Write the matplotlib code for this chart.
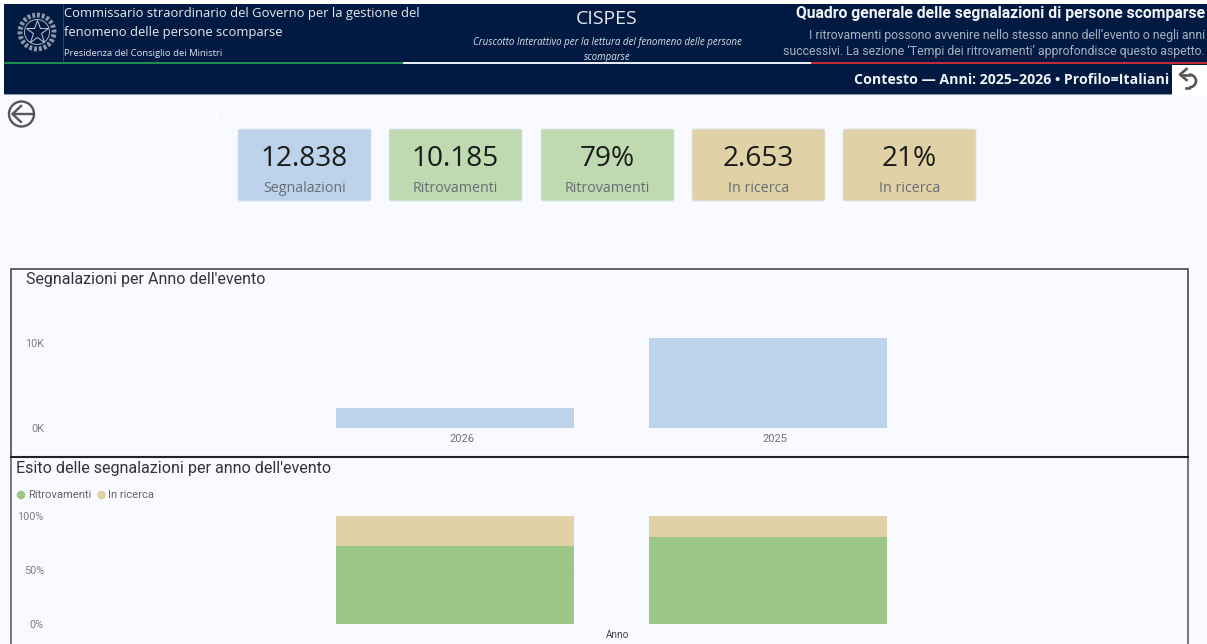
import matplotlib
matplotlib.use("Agg")
import matplotlib.pyplot as plt
from matplotlib.patches import Rectangle, FancyBboxPatch, Circle, Arc
from matplotlib.transforms import ScaledTranslation

W, H = 1207, 644
BG = "#F8FAFF"; NAVY = "#001A41"
plt.rcParams['font.family'] = ['Open Sans', 'DejaVu Sans']

# data
years = ["2026", "2025"]
segnalazioni = [2300, 10538]
ritrovamenti_pct = [72, 80.5]
in_ricerca_pct = [28, 19.5]
seg_ticks = [0, 10000]
seg_tick_labels = ["0K", "10K"]
pct_ticks = [0, 50, 100]
pct_tick_labels = ["0%", "50%", "100%"]
card_values = ["12.838", "10.185", "79%", "2.653", "21%"]
card_labels = ["Segnalazioni", "Ritrovamenti", "Ritrovamenti", "In ricerca", "In ricerca"]
card_colors = ["#BDD3EC", "#BFDAB0", "#BFDAB0", "#E0D2A6", "#E0D2A6"]
card_lefts = [238, 389, 541, 692, 843]

fig = plt.figure(figsize=(W/100, H/100), dpi=100, facecolor=BG)
ov = fig.add_axes([0, 0, 1, 1]); ov.set_xlim(0, W); ov.set_ylim(H, 0); ov.axis("off")

def T(x, y, s, size, color="#222", ha="left", va="center", **k):
    return ov.text(x, y, s, fontsize=size, color=color, ha=ha, va=va, **k)

# header
ov.add_patch(Rectangle((0, 0), W, 4, fc="white", ec="none"))
ov.add_patch(Rectangle((0, 0), 4, 94, fc="white", ec="none"))
ov.add_patch(Rectangle((4, 4), W-4, 90, fc=NAVY, ec="none"))
ov.add_patch(Rectangle((4, 94), 1168, 1.2, fc="#8C9AB5", ec="none"))
ov.add_patch(Rectangle((4, 62), 399, 2.2, fc="#1E8A50", ec="none", zorder=3))
ov.add_patch(Rectangle((403, 62), 408, 2.2, fc="#E8EDF5", ec="none", zorder=3))
ov.add_patch(Rectangle((811, 62), W-811, 2.2, fc="#C8283C", ec="none", zorder=3))
ov.add_patch(Rectangle((1172, 65), W-1172, 30, fc="white", ec="none"))
ov.plot([62.5, 62.5], [4, 62], color="#33466A", lw=0.7)

# emblem
ov.add_patch(Circle((37, 32), 17, fc="none", ec="#8E97A8", lw=3.5, ls=(0, (0.6, 0.4))))
ov.add_patch(Circle((37, 32), 12.5, fc="none", ec="#AEB5C1", lw=0.7))
ov.plot([37], [32], marker="*", ms=17, mfc="none", mec="#C5CAD3", mew=0.7)

T(63.5, 13, "Commissario straordinario del Governo per la gestione del", 9.35, "#E6EAF0")
T(63.5, 32, "fenomeno delle persone scomparse", 9.35, "#E6EAF0")
T(63.5, 53, "Presidenza del Consiglio dei Ministri", 6.8, "#DDE2EA")
T(607, 19, "CISPES", 14, "#E6EAF0", ha="center")
T(607, 42, "Cruscotto Interattivo per la lettura del fenomeno delle persone", 7.0, "#DDE2EA", ha="center", style="italic")
T(607, 57, "scomparse", 7.0, "#DDE2EA", ha="center", style="italic")
T(1205, 13, "Quadro generale delle segnalazioni di persone scomparse", 11.3, "#F2F4F8", ha="right", family=["Roboto"], weight="bold")
T(1205, 35, "I ritrovamenti possono avvenire nello stesso anno dell’evento o negli anni", 8.85, "#A9B2C2", ha="right", family=["Roboto"])
T(1205, 51, "successivi. La sezione ‘Tempi dei ritrovamenti’ approfondisce questo aspetto.", 8.85, "#A9B2C2", ha="right", family=["Roboto"])
T(1169, 79.5, "Contesto — Anni: 2025–2026 • Profilo=Italiani", 10.2, "#F2F4F8", ha="right", weight="bold")

# return arrow
ov.add_patch(Arc((1189, 81), 14, 13, theta1=-90, theta2=90, color="#555", lw=1.9))
ov.plot([1189, 1183], [74.5, 74.5], color="#555", lw=1.9)
ov.plot([1186.5, 1180, 1186.5], [69, 74.5, 80], color="#555", lw=1.9)
ov.plot([1189, 1186], [87.5, 87.5], color="#555", lw=1.9)

# back button
ov.add_patch(Circle((21.5, 114), 12.5, fc="none", ec="#555", lw=1.7))
ov.plot([32, 13], [114, 114], color="#555", lw=1.7)
ov.plot([21, 12.5, 21], [106, 114, 122], color="#555", lw=1.7)
# faint help icon
ov.add_patch(Circle((207, 115), 10, fc="none", ec="white", lw=1.2))
T(207, 115, "?", 8, "white", ha="center")

# cards
for x, v, l, c in zip(card_lefts, card_values, card_labels, card_colors):
    ov.add_patch(FancyBboxPatch((x+2, 131), 129, 68, boxstyle="round,pad=2,rounding_size=2", fc=c, ec="#DDE5F0", lw=0.6))
    T(x+66.5, 158.5, v, 20.2, "#1A1A1A", ha="center")
    T(x+66.5, 188, l, 10.3, "#666C74", ha="center")

# panels
ov.add_patch(Rectangle((11, 268.5), 1177, 188.5, fc="none", ec="#3A3A3A", lw=1.1))
ov.plot([11, 11], [457, H], color="#555", lw=1.1)
ov.plot([1188, 1188], [457, H], color="#555", lw=1.1)
ov.plot([11, 1188], [457.3, 457.3], color="#222", lw=1.5)
T(26, 279, "Segnalazioni per Anno dell'evento", 11.5, "#333", family=["Roboto"])
T(16, 468, "Esito delle segnalazioni per anno dell'evento", 11.6, "#333", family=["Roboto"])

# legend
ov.add_patch(Circle((21, 495), 4.3, fc="#9CC788", ec="none"))
T(28, 495, "Ritrovamenti", 8.1, "#666", family=["Roboto"])
ov.add_patch(Circle((101.5, 495), 4.3, fc="#E0D2A6", ec="none"))
T(108, 495, "In ricerca", 8.1, "#666", family=["Roboto"])

# axes positioned in pixels: category 0 centred at x=455, spacing 313
def make_ax(top, bottom):
    ax = fig.add_axes([53/W, 1-bottom/H, (1180-53)/W, (bottom-top)/H], facecolor="none")
    ax.set_xlim((53-455)/313, (1180-455)/313)
    for s in ax.spines.values():
        s.set_visible(False)
    ax.set_xticks(range(len(years)))
    ax.tick_params(length=0)
    return ax

ax1 = make_ax(318, 428)
ax1.bar(range(2), segnalazioni, width=0.76, color="#BDD3EC")
ax1.set_ylim(0, 110/85*10000)
ax1.set_yticks(seg_ticks, seg_tick_labels, fontsize=7.8, color="#808080", family="Roboto")
ax1.set_xticklabels(years, fontsize=8, color="#707070", family="Roboto")
ax1.tick_params(axis="x", pad=4.5)
ax1.tick_params(axis="y", pad=6.5)
shift = ScaledTranslation(6.5/100, 0, fig.dpi_scale_trans)
for lab in ax1.get_xticklabels():
    lab.set_transform(lab.get_transform() + shift)

ax2 = make_ax(516, 624)
ax2.bar(range(2), ritrovamenti_pct, width=0.76, color="#9CC788", label="Ritrovamenti", zorder=3)
ax2.bar(range(2), in_ricerca_pct, width=0.76, bottom=ritrovamenti_pct, color="#E0D2A6", label="In ricerca", zorder=3)
ax2.set_ylim(0, 100)
ax2.set_yticks(pct_ticks, pct_tick_labels, fontsize=7.8, color="#808080", family="Roboto")
ax2.set_xticks([])
ax2.tick_params(axis="y", pad=6.5)
ax2.grid(axis="y", color="#DFE3EA", lw=0.7, ls=(0, (1, 3)), zorder=0)
ax2.set_axisbelow(True)
for s in ax2.spines.values():
    s.set_visible(False)
T(618, 635, "Anno", 7.2, "#444", ha="center", family=["Roboto"])

fig.savefig("out.png", dpi=100, facecolor=BG)
